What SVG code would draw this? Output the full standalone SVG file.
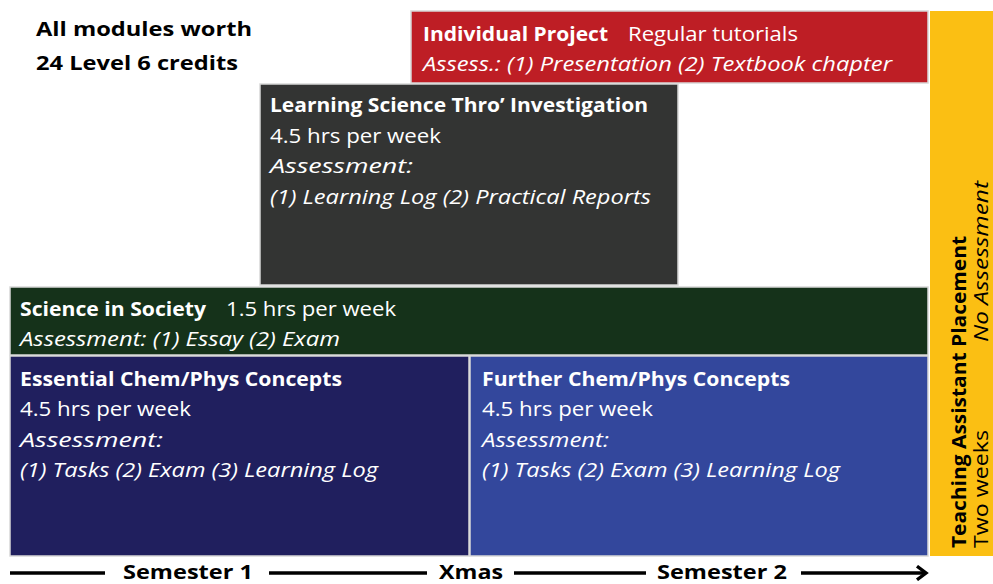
<svg xmlns="http://www.w3.org/2000/svg" width="993" height="584" viewBox="0 0 993 584">
<defs>
<style>
text{font-family:"Open Sans","Noto Sans","Liberation Sans",sans-serif;font-size:20px;fill:#fff}
.b{font-weight:bold}
.i{font-style:italic}
.k{fill:#000}
.box{stroke:#d8d8d8;stroke-width:1.5}
</style>
<marker id="ah" viewBox="0 0 12 14" refX="10" refY="7" markerWidth="4" markerHeight="4.5" orient="auto" markerUnits="strokeWidth">
<polyline points="2,1 10,7 2,13" fill="none" stroke="#000" stroke-width="3"/>
</marker>
</defs>
<rect width="993" height="584" fill="#fff"/>
<g id="intro">
<text class="b k" x="36" y="36" font-size="22" textLength="216" lengthAdjust="spacingAndGlyphs">All modules worth</text>
<text class="b k" x="36" y="70" font-size="22" textLength="202" lengthAdjust="spacingAndGlyphs">24 Level 6 credits</text>
</g>
<g id="individual-project">
<rect class="box" x="411" y="11" width="517" height="72" fill="#be1e25"/>
<text class="b" x="423" y="41" textLength="185" lengthAdjust="spacingAndGlyphs">Individual Project</text>
<text x="628" y="41" textLength="170" lengthAdjust="spacingAndGlyphs">Regular tutorials</text>
<text class="i" x="423" y="71" textLength="469" lengthAdjust="spacingAndGlyphs">Assess.: (1) Presentation (2) Textbook chapter</text>
</g>
<g id="learning-science">
<rect class="box" x="260" y="84" width="418" height="201" fill="#333433"/>
<text class="b" x="270" y="112" textLength="378" lengthAdjust="spacingAndGlyphs">Learning Science Thro’ Investigation</text>
<text x="270" y="143" textLength="171" lengthAdjust="spacingAndGlyphs">4.5 hrs per week</text>
<text class="i" x="270" y="173" textLength="143" lengthAdjust="spacingAndGlyphs">Assessment:</text>
<text class="i" x="270" y="204" textLength="381" lengthAdjust="spacingAndGlyphs">(1) Learning Log (2) Practical Reports</text>
</g>
<g id="science-in-society">
<rect class="box" x="10" y="287" width="918" height="68" fill="#15321a"/>
<text class="b" x="20" y="316" textLength="186" lengthAdjust="spacingAndGlyphs">Science in Society</text>
<text x="226" y="316" textLength="170" lengthAdjust="spacingAndGlyphs">1.5 hrs per week</text>
<text class="i" x="20" y="346" textLength="320" lengthAdjust="spacingAndGlyphs">Assessment: (1) Essay (2) Exam</text>
</g>
<g id="essential">
<rect class="box" x="10" y="356" width="459" height="200" fill="#201f5e"/>
<text class="b" x="20" y="386" textLength="322" lengthAdjust="spacingAndGlyphs">Essential Chem/Phys Concepts</text>
<text x="20" y="416" textLength="171" lengthAdjust="spacingAndGlyphs">4.5 hrs per week</text>
<text class="i" x="20" y="447" textLength="143" lengthAdjust="spacingAndGlyphs">Assessment:</text>
<text class="i" x="20" y="477" textLength="358" lengthAdjust="spacingAndGlyphs">(1) Tasks (2) Exam (3) Learning Log</text>
</g>
<g id="further">
<rect class="box" x="470" y="356" width="458" height="200" fill="#33479c"/>
<text class="b" x="482" y="386" textLength="308" lengthAdjust="spacingAndGlyphs">Further Chem/Phys Concepts</text>
<text x="482" y="416" textLength="171" lengthAdjust="spacingAndGlyphs">4.5 hrs per week</text>
<text class="i" x="482" y="447" textLength="127" lengthAdjust="spacingAndGlyphs">Assessment:</text>
<text class="i" x="482" y="477" textLength="358" lengthAdjust="spacingAndGlyphs">(1) Tasks (2) Exam (3) Learning Log</text>
</g>
<g id="teaching-assistant">
<rect x="930" y="11" width="63" height="545" fill="#fbbf13"/>
<text class="b k" font-size="21" transform="translate(966,548) rotate(-90)" textLength="312" lengthAdjust="spacingAndGlyphs">Teaching Assistant Placement</text>
<text class="k" font-size="21" transform="translate(988,548) rotate(-90)" textLength="118" lengthAdjust="spacingAndGlyphs">Two weeks</text>
<text class="i k" font-size="21" transform="translate(988,342) rotate(-90)" textLength="161" lengthAdjust="spacingAndGlyphs">No Assessment</text>
</g>
<g id="timeline">
<g stroke="#000" stroke-width="3.5" fill="none">
<line x1="10" y1="573" x2="105" y2="573"/>
<line x1="269" y1="573" x2="427" y2="573"/>
<line x1="514" y1="573" x2="646" y2="573"/>
<line x1="801" y1="573" x2="926" y2="573" marker-end="url(#ah)"/>
</g>
<text class="b k" x="123" y="579" font-size="20" textLength="130" lengthAdjust="spacingAndGlyphs">Semester 1</text>
<text class="b k" x="439" y="579" font-size="20" textLength="64" lengthAdjust="spacingAndGlyphs">Xmas</text>
<text class="b k" x="657" y="579" font-size="20" textLength="130" lengthAdjust="spacingAndGlyphs">Semester 2</text>
</g>
</svg>
